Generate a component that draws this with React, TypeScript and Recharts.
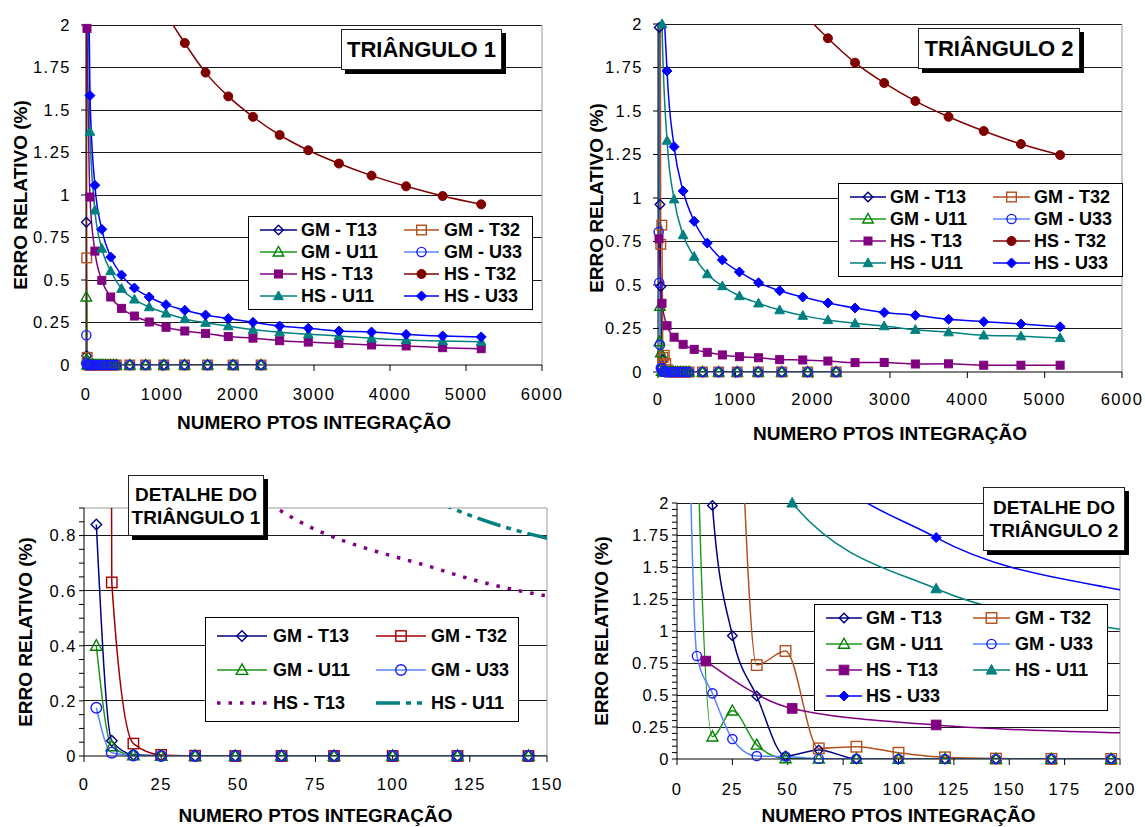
import React from "react"
import { LineChart, Line, XAxis, YAxis, CartesianGrid, ReferenceLine, Label, Legend } from "recharts"

const FONT = "'Liberation Sans', Arial, sans-serif"

// numero de pontos de integracao
const gmPts = [4, 9, 16, 25, 36, 49, 64, 81, 100, 121, 144, 169, 196, 225, 256, 289, 324, 361, 400, 576, 784, 1024, 1296, 1600, 1936, 2304]
const hsPts = [13, 52, 117, 208, 325, 468, 637, 832, 1053, 1300, 1573, 1872, 2197, 2548, 2925, 3328, 3757, 4212, 4693, 5200]

// triangulo 1
const t1GmT13 = [0.84, 0.055, 0.005, 0.001, 0, 0, 0, 0, 0, 0, 0, 0, 0, 0, 0, 0, 0, 0, 0, 0, 0, 0, 0, 0, 0, 0]
const t1GmT32 = [20, 0.63, 0.045, 0.004, 0.001, 0, 0, 0, 0, 0, 0, 0, 0, 0, 0, 0, 0, 0, 0, 0, 0, 0, 0, 0, 0, 0]
const t1GmU11 = [0.4, 0.035, 0.002, 0, 0, 0, 0, 0, 0, 0, 0, 0, 0, 0, 0, 0, 0, 0, 0, 0, 0, 0, 0, 0, 0, 0]
const t1GmU33 = [0.175, 0.012, 0.002, 0, 0, 0, 0, 0, 0, 0, 0, 0, 0, 0, 0, 0, 0, 0, 0, 0, 0, 0, 0, 0, 0, 0]
const t1HsT13 = [1.98, 0.988, 0.67, 0.498, 0.4, 0.333, 0.288, 0.253, 0.222, 0.2, 0.186, 0.167, 0.158, 0.143, 0.135, 0.126, 0.118, 0.112, 0.102, 0.096]
const t1HsT32 = [18.9, 9.45, 6.3, 4.73, 3.78, 3.15, 2.7, 2.36, 2.08, 1.894, 1.72, 1.58, 1.46, 1.353, 1.263, 1.185, 1.114, 1.051, 0.994, 0.945]
const t1HsU11 = [2.75, 1.373, 0.91, 0.685, 0.553, 0.449, 0.386, 0.341, 0.304, 0.271, 0.249, 0.229, 0.208, 0.193, 0.181, 0.171, 0.157, 0.147, 0.141, 0.137]
const t1HsU33 = [3.17, 1.585, 1.057, 0.798, 0.635, 0.529, 0.453, 0.4, 0.355, 0.322, 0.294, 0.273, 0.251, 0.229, 0.216, 0.2, 0.194, 0.18, 0.171, 0.165]

// triangulo 2
const t2GmT13 = [12, 6, 1.98, 0.963, 0.492, 0.023, 0.07, 0.002, 0, 0, 0, 0, 0, 0, 0, 0, 0, 0, 0, 0, 0, 0, 0, 0, 0, 0]
const t2GmT32 = [20, 12, 7, 4.2, 0.734, 0.844, 0.083, 0.096, 0.049, 0.013, 0.003, 0.001, 0, 0, 0, 0, 0, 0, 0, 0, 0, 0, 0, 0, 0, 0]
const t2GmU11 = [8, 2.7, 0.174, 0.377, 0.11, 0.004, 0.002, 0, 0, 0, 0, 0, 0, 0, 0, 0, 0, 0, 0, 0, 0, 0, 0, 0, 0, 0]
const t2GmU33 = [4, 0.805, 0.513, 0.156, 0.023, 0.02, 0.002, 0.001, 0, 0, 0, 0, 0, 0, 0, 0, 0, 0, 0, 0, 0, 0, 0, 0, 0, 0]
const t2HsT13 = [0.765, 0.395, 0.266, 0.2, 0.159, 0.13, 0.113, 0.098, 0.088, 0.082, 0.071, 0.069, 0.063, 0.054, 0.055, 0.046, 0.047, 0.039, 0.039, 0.039]
const t2HsT32 = [24.9, 12.45, 8.3, 6.2, 4.98, 4.15, 3.56, 3.11, 2.77, 2.49, 2.26, 2.07, 1.918, 1.778, 1.661, 1.557, 1.467, 1.385, 1.31, 1.247]
const t2HsU11 = [4.0, 2.0, 1.33, 0.993, 0.787, 0.663, 0.563, 0.494, 0.437, 0.395, 0.356, 0.324, 0.299, 0.28, 0.264, 0.243, 0.229, 0.211, 0.206, 0.196]
const t2HsU33 = [5.2, 2.55, 1.73, 1.295, 1.04, 0.866, 0.741, 0.644, 0.575, 0.513, 0.467, 0.431, 0.397, 0.368, 0.342, 0.326, 0.303, 0.289, 0.276, 0.26]

// eixos
const yMajors2 = [0, 0.25, 0.5, 0.75, 1, 1.25, 1.5, 1.75, 2]
const yMajors09 = [0, 0.2, 0.4, 0.6, 0.8]
const xTicks6000 = [0, 1000, 2000, 3000, 4000, 5000, 6000]
const xTicks150 = [0, 25, 50, 75, 100, 125, 150]
const xTicks200 = [0, 25, 50, 75, 100, 125, 150, 175, 200]

const pts = (xs: number[], ys: number[]) => xs.map((x, i) => ({ x, y: ys[i] }))
const steps = (max: number, step: number) =>
  Array.from({ length: Math.round(max / step) + 1 }, (_, i) => +(i * step).toFixed(2))

type Shape = "diamond" | "square" | "triangle" | "circle"
type Mk = { shape: Shape; color: string; filled: boolean; size: number }
type Sr = { name: string; data: { x: number; y: number }[]; stroke: string; width?: number; dash?: string; mk?: Mk }

const st: Record<string, Omit<Sr, "name" | "data">> = {
  gmT13: { stroke: "#000080", mk: { shape: "diamond", color: "#000080", filled: false, size: 4.8 } },
  gmT32: { stroke: "#B4501E", mk: { shape: "square", color: "#B4501E", filled: false, size: 4.8 } },
  gmU11: { stroke: "#1A9A1A", mk: { shape: "triangle", color: "#008000", filled: false, size: 5 } },
  gmU33: { stroke: "#5A86FF", mk: { shape: "circle", color: "#1A1AFF", filled: false, size: 4.6 } },
  hsT13: { stroke: "#800080", mk: { shape: "square", color: "#800080", filled: true, size: 4 } },
  hsT32: { stroke: "#800000", mk: { shape: "circle", color: "#800000", filled: true, size: 4.5 } },
  hsU11: { stroke: "#008080", mk: { shape: "triangle", color: "#008080", filled: true, size: 4.6 } },
  hsU33: { stroke: "#0000FF", mk: { shape: "diamond", color: "#0000FF", filled: true, size: 5 } },
}

function Marker({ cx, cy, mk }: { cx: number; cy: number; mk: Mk }) {
  const s = mk.size
  const p = { fill: mk.filled ? mk.color : "none", stroke: mk.color, strokeWidth: mk.filled ? 1 : 1.4 }
  if (mk.shape === "diamond")
    return <polygon points={`${cx},${cy - s} ${cx + s},${cy} ${cx},${cy + s} ${cx - s},${cy}`} {...p} />
  if (mk.shape === "square") return <rect x={cx - s} y={cy - s} width={2 * s} height={2 * s} {...p} />
  if (mk.shape === "triangle")
    return <polygon points={`${cx},${cy - s * 1.1} ${cx + s * 1.05},${cy + s * 0.8} ${cx - s * 1.05},${cy + s * 0.8}`} {...p} />
  return <circle cx={cx} cy={cy} r={s} {...p} />
}

const dotFor = (mk: Mk, xMax: number, yMax: number) => (props: any) => {
  const { cx, cy, payload, index } = props
  if (cx == null || cy == null || payload.y > yMax * 1.004 || payload.x > xMax) return <g key={index} />
  return <g key={index}><Marker cx={cx} cy={cy} mk={mk} /></g>
}

type LegendSpec = { left: number; top: number; w: number; h: number; cols: number[][]; row0: number; step: number }

function LegendBox({ items, lg }: { items: Sr[]; lg: LegendSpec }) {
  return (
    <div style={{ position: "relative", width: lg.w, height: lg.h, border: "1px solid #000", background: "#fff", boxSizing: "border-box" }}>
      {items.map((s, i) => {
        const [l0, l1, tx] = lg.cols[i % 2]
        const cy = lg.row0 + Math.floor(i / 2) * lg.step - lg.top - 1
        const w = l1 - l0
        return (
          <React.Fragment key={s.name}>
            <svg style={{ position: "absolute", left: l0 - lg.left - 1, top: cy - 9 }} width={w} height={18}>
              <line x1={0} x2={w} y1={9} y2={9} stroke={s.stroke} strokeWidth={s.width ?? 1.5} strokeDasharray={s.dash} />
              {s.mk && <Marker cx={w / 2} cy={9} mk={s.mk} />}
            </svg>
            <span style={{ position: "absolute", left: tx - lg.left - 1, top: cy, transform: "translateY(-50%)", fontFamily: FONT, fontWeight: 700, fontSize: 18, lineHeight: "20px", whiteSpace: "nowrap", color: "#000" }}>
              {s.name}
            </span>
          </React.Fragment>
        )
      })}
    </div>
  )
}

type PanelCfg = {
  left: number; top: number; width: number; height: number
  yW: number; mTop: number; mRight: number; xH: number
  xMax: number; xTicks: number[]; yMax: number; yTicks: number[]; yMajors: number[]
  yTS: number; yTM: number; xTS: number; xTM: number; yLabOff: number; xLabOff: number
  series: Sr[]; lg: LegendSpec
  title: string[]; tBox: { left: number; top: number; w: number; h: number; fs: number }
  topBorder?: boolean
}

function Panel({ c }: { c: PanelCfg }) {
  const isMajor = (v: number) => c.yMajors.some((m) => Math.abs(m - v) < 1e-6)
  const tick = { fill: "#000", fontSize: 16.5, fontFamily: FONT, letterSpacing: 1.5 }
  return (
    <div style={{ position: "absolute", left: c.left, top: c.top, width: c.width, height: c.height }}>
      <LineChart width={c.width} height={c.height} margin={{ top: c.mTop, right: c.mRight, bottom: 0, left: 0 }}>
        <CartesianGrid vertical={false} horizontalValues={c.yMajors.filter((v) => v > 0)} stroke="#1a1a1a" shapeRendering="crispEdges" />
        <XAxis type="number" dataKey="x" domain={[0, c.xMax]} ticks={c.xTicks} interval={0} allowDataOverflow
          height={c.xH} tickSize={c.xTS} tickMargin={c.xTM} stroke="#000" tick={tick}>
          <Label value="NUMERO PTOS INTEGRAÇÃO" position="insideBottom" offset={c.xLabOff}
            fill="#000" fontSize={19} fontWeight={700} fontFamily={FONT} />
        </XAxis>
        <YAxis type="number" domain={[0, c.yMax]} ticks={c.yTicks} interval={0} allowDataOverflow width={c.yW}
          tickSize={c.yTS} tickMargin={c.yTM} stroke="#000" tick={tick}
          tickFormatter={(v: number) => (isMajor(v) ? String(v) : "")}>
          <Label value="ERRO RELATIVO (%)" angle={-90} position="insideLeft" offset={c.yLabOff}
            fill="#000" fontSize={19} fontWeight={700} fontFamily={FONT} style={{ textAnchor: "middle" }} />
        </YAxis>
        <ReferenceLine x={c.xMax} stroke="#999" />
        {c.topBorder && <ReferenceLine y={c.yMax} stroke="#999" />}
        {c.series.map((s) => (
          <Line key={s.name} data={s.data} dataKey="y" name={s.name} type="monotone" stroke={s.stroke}
            strokeWidth={s.width ?? 1.5} strokeDasharray={s.dash}
            dot={s.mk ? dotFor(s.mk, c.xMax, c.yMax) : false} activeDot={false} isAnimationActive={false} />
        ))}
        <Legend layout="vertical" align="center" verticalAlign="middle"
          wrapperStyle={{ left: c.lg.left - c.left, top: c.lg.top - c.top, width: c.lg.w, height: c.lg.h }}
          content={() => <LegendBox items={c.series} lg={c.lg} />} />
      </LineChart>
      <div style={{
        position: "absolute", left: c.tBox.left - c.left, top: c.tBox.top - c.top, width: c.tBox.w, height: c.tBox.h,
        border: "1px solid #222", background: "#fff", boxShadow: "4px 4px 0 #000", boxSizing: "border-box",
        display: "flex", flexDirection: "column", justifyContent: "center", alignItems: "center",
        fontFamily: FONT, fontWeight: 700, fontSize: c.tBox.fs, lineHeight: "23px", color: "#000",
      }}>
        {c.title.map((t) => <div key={t}>{t}</div>)}
      </div>
    </div>
  )
}

const scaleMk = (s: Omit<Sr, "name" | "data">, k: number) =>
  s.mk ? { ...s, mk: { ...s.mk, size: s.mk.size * k } } : s

const panels: PanelCfg[] = [
  {
    left: 0, top: 0, width: 572, height: 445, yW: 86, mTop: 25, mRight: 30, xH: 80,
    xMax: 6000, xTicks: xTicks6000, yMax: 2, yTicks: yMajors2, yMajors: yMajors2,
    yTS: 5, yTM: 10, xTS: 6, xTM: 17, yLabOff: 20, xLabOff: 16.5,
    series: [
      { name: "GM - T13", data: pts(gmPts, t1GmT13), ...st.gmT13 },
      { name: "GM - T32", data: pts(gmPts, t1GmT32), ...st.gmT32 },
      { name: "GM - U11", data: pts(gmPts, t1GmU11), ...st.gmU11 },
      { name: "GM - U33", data: pts(gmPts, t1GmU33), ...st.gmU33 },
      { name: "HS - T13", data: pts(hsPts, t1HsT13), ...st.hsT13 },
      { name: "HS - T32", data: pts(hsPts, t1HsT32), ...st.hsT32 },
      { name: "HS - U11", data: pts(hsPts, t1HsU11), ...st.hsU11 },
      { name: "HS - U33", data: pts(hsPts, t1HsU33), ...st.hsU33 },
    ],
    lg: { left: 248, top: 216, w: 285, h: 94, cols: [[260, 297, 301], [404, 439, 444]], row0: 230, step: 22 },
    title: ["TRIÂNGULO 1"], tBox: { left: 341, top: 29, w: 161, h: 41, fs: 22 },
  },
  {
    left: 572, top: 0, width: 573, height: 445, yW: 86, mTop: 24, mRight: 23, xH: 73,
    xMax: 6000, xTicks: xTicks6000, yMax: 2, yTicks: yMajors2, yMajors: yMajors2,
    yTS: 5, yTM: 10, xTS: 6, xTM: 15, yLabOff: 24.5, xLabOff: 5,
    series: [
      { name: "GM - T13", data: pts(gmPts, t2GmT13), ...st.gmT13 },
      { name: "GM - T32", data: pts(gmPts, t2GmT32), ...st.gmT32 },
      { name: "GM - U11", data: pts(gmPts, t2GmU11), ...st.gmU11 },
      { name: "GM - U33", data: pts(gmPts, t2GmU33), ...st.gmU33 },
      { name: "HS - T13", data: pts(hsPts, t2HsT13), ...st.hsT13 },
      { name: "HS - T32", data: pts(hsPts, t2HsT32), ...st.hsT32 },
      { name: "HS - U11", data: pts(hsPts, t2HsU11), ...st.hsU11 },
      { name: "HS - U33", data: pts(hsPts, t2HsU33), ...st.hsU33 },
    ],
    lg: { left: 838, top: 183, w: 285, h: 94, cols: [[850, 886, 890], [993, 1030, 1034]], row0: 196.7, step: 22.2 },
    title: ["TRIÂNGULO 2"], tBox: { left: 918, top: 28, w: 162, h: 41, fs: 22 },
  },
  {
    left: 0, top: 460, width: 572, height: 367, yW: 84, mTop: 48, mRight: 25, xH: 71,
    xMax: 150, xTicks: xTicks150, yMax: 0.9, yTicks: steps(0.9, 0.05), yMajors: yMajors09,
    yTS: 5, yTM: 2, xTS: 6, xTM: 16, yLabOff: 25, xLabOff: 5, topBorder: true,
    series: [
      { name: "GM - T13", data: pts(gmPts, t1GmT13), ...scaleMk(st.gmT13, 1.1) },
      { name: "GM - T32", data: pts(gmPts, t1GmT32), stroke: "#A00000", mk: { shape: "square", color: "#A00000", filled: false, size: 5.2 } },
      { name: "GM - U11", data: pts(gmPts, t1GmU11), ...scaleMk(st.gmU11, 1.1) },
      { name: "GM - U33", data: pts(gmPts, t1GmU33), ...scaleMk(st.gmU33, 1.15) },
      { name: "HS - T13", data: pts(hsPts, t1HsT13), stroke: "#800080", width: 3.5, dash: "3.5 8" },
      { name: "HS - U11", data: pts(hsPts, t1HsU11), stroke: "#008080", width: 3.5, dash: "24 6 5 6 5 6" },
    ],
    lg: { left: 205, top: 617, w: 314, h: 105, cols: [[217, 267, 273], [376, 426, 431]], row0: 635.7, step: 33.8 },
    title: ["DETALHE DO", "TRIÂNGULO 1"], tBox: { left: 128, top: 475, w: 136, h: 61, fs: 19 },
  },
  {
    left: 572, top: 460, width: 573, height: 367, yW: 105, mTop: 43, mRight: 25, xH: 68,
    xMax: 200, xTicks: xTicks200, yMax: 2, yTicks: steps(2, 0.05), yMajors: yMajors2,
    yTS: 5, yTM: 2, xTS: 6, xTM: 18, yLabOff: 29, xLabOff: 5,
    series: [
      { name: "GM - T13", data: pts(gmPts, t2GmT13), ...st.gmT13 },
      { name: "GM - T32", data: pts(gmPts, t2GmT32), ...scaleMk(st.gmT32, 1.1) },
      { name: "GM - U11", data: pts(gmPts, t2GmU11), ...scaleMk(st.gmU11, 1.05) },
      { name: "GM - U33", data: pts(gmPts, t2GmU33), ...st.gmU33 },
      { name: "HS - T13", data: pts(hsPts, t2HsT13), ...scaleMk(st.hsT13, 1.2) },
      { name: "HS - U11", data: pts(hsPts, t2HsU11), ...scaleMk(st.hsU11, 1.1) },
      { name: "HS - U33", data: pts(hsPts, t2HsU33), ...st.hsU33 },
    ],
    lg: { left: 814, top: 604, w: 294, h: 107, cols: [[826, 862, 866], [973, 1010, 1015]], row0: 618.3, step: 26 },
    title: ["DETALHE DO", "TRIÂNGULO 2"], tBox: { left: 983, top: 487, w: 142, h: 64, fs: 19 },
  },
]

export default function App() {
  return (
    <div style={{ position: "absolute", left: 0, top: 0, width: 1145, height: 827, background: "#fff", overflow: "hidden" }}>
      <style>{".recharts-line-dots{clip-path:none !important}"}</style>
      {panels.map((c, i) => <Panel key={i} c={c} />)}
    </div>
  )
}
